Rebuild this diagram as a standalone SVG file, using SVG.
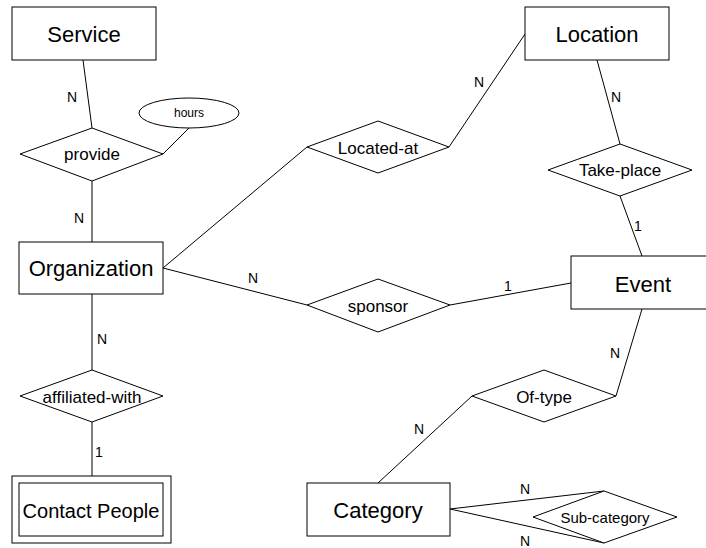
<svg xmlns="http://www.w3.org/2000/svg" width="706" height="548" viewBox="0 0 706 548">
<style>
.s{fill:#fff;stroke:#000;stroke-width:1}
.c{fill:none;stroke:#000;stroke-width:1}
text{font-family:"Liberation Sans",Arial,sans-serif;fill:#000}
.e{font-size:22px;text-anchor:middle}
.r{font-size:17px;text-anchor:middle}
.k{font-size:14px}
</style>
<rect width="706" height="548" fill="#fff"/>
<g id="connectors">
<line class="c" x1="83" y1="60" x2="92" y2="128"/>
<line class="c" x1="163" y1="154" x2="189" y2="128"/>
<line class="c" x1="92" y1="181" x2="92" y2="242"/>
<line class="c" x1="163" y1="268" x2="307" y2="147"/>
<line class="c" x1="449" y1="147" x2="525" y2="34"/>
<line class="c" x1="597" y1="60" x2="620" y2="144"/>
<line class="c" x1="620" y1="196" x2="642" y2="256"/>
<line class="c" x1="163" y1="268" x2="307" y2="305"/>
<line class="c" x1="450" y1="305" x2="571" y2="283"/>
<line class="c" x1="642" y1="309" x2="616" y2="396"/>
<line class="c" x1="472" y1="396" x2="378" y2="483"/>
<line class="c" x1="450" y1="509" x2="604" y2="491"/>
<line class="c" x1="450" y1="509" x2="604" y2="543"/>
<line class="c" x1="92" y1="294" x2="92" y2="370"/>
<line class="c" x1="92" y1="422" x2="92" y2="476"/>
<text class="k" x="67" y="102">N</text>
<text class="k" x="74" y="223">N</text>
<text class="k" x="474" y="87">N</text>
<text class="k" x="611" y="102">N</text>
<text class="k" x="634" y="231">1</text>
<text class="k" x="248" y="283">N</text>
<text class="k" x="504" y="291">1</text>
<text class="k" x="610" y="358">N</text>
<text class="k" x="97" y="344">N</text>
<text class="k" x="95" y="457">1</text>
<text class="k" x="414" y="434">N</text>
<text class="k" x="520" y="494">N</text>
<text class="k" x="520" y="546">N</text>
</g>
<g id="service">
<rect class="s" x="12" y="7" width="144" height="53"/>
<text class="e" x="84" y="42">Service</text>
</g>
<g id="location">
<rect class="s" x="525" y="7" width="144" height="53"/>
<text class="e" x="597" y="42">Location</text>
</g>
<g id="organization">
<rect class="s" x="19" y="242" width="144" height="52"/>
<text class="e" x="91" y="276">Organization</text>
</g>
<g id="event">
<rect class="s" x="571" y="256" width="144" height="53"/>
<text class="e" x="643" y="292">Event</text>
</g>
<g id="category">
<rect class="s" x="307" y="483" width="143" height="53"/>
<text class="e" x="378" y="518">Category</text>
</g>
<g id="contact-people">
<rect class="s" x="12" y="476" width="159" height="67"/>
<rect class="s" x="19" y="483" width="144" height="53"/>
<text x="91" y="518" style="font-size:20px;text-anchor:middle">Contact People</text>
</g>
<g id="provide">
<polygon class="s" points="92,128 163,154 92,181 20,154"/>
<text class="r" x="92" y="160">provide</text>
</g>
<g id="hours">
<ellipse class="s" cx="189" cy="113" rx="50" ry="15"/>
<text x="189" y="117" style="font-size:12px;text-anchor:middle">hours</text>
</g>
<g id="located-at">
<polygon class="s" points="378,121 449,147 378,173 307,147"/>
<text class="r" x="378" y="154">Located-at</text>
</g>
<g id="take-place">
<polygon class="s" points="620,144 692,170 620,196 548,170"/>
<text class="r" x="620" y="176">Take-place</text>
</g>
<g id="sponsor">
<polygon class="s" points="378,279 450,305 378,332 307,305"/>
<text class="r" x="378" y="312">sponsor</text>
</g>
<g id="affiliated-with">
<polygon class="s" points="92,370 163,396 92,422 20,396"/>
<text class="r" x="92" y="403">affiliated-with</text>
</g>
<g id="of-type">
<polygon class="s" points="544,370 616,396 544,422 472,396"/>
<text class="r" x="544" y="403">Of-type</text>
</g>
<g id="sub-category">
<polygon class="s" points="604,491 677,517 604,543 533,517"/>
<text x="605" y="523" style="font-size:15px;text-anchor:middle">Sub-category</text>
</g>
</svg>
